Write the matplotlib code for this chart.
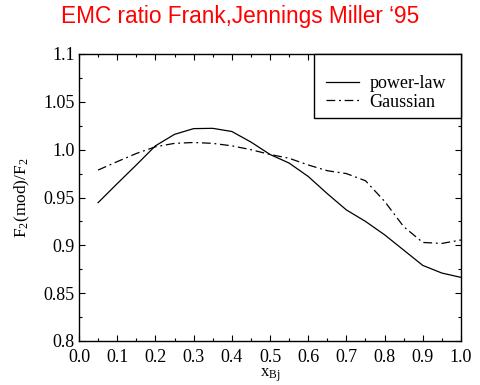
import matplotlib
matplotlib.use("Agg")
import matplotlib.pyplot as plt
from matplotlib.ticker import MultipleLocator, FormatStrFormatter
from matplotlib.patches import Rectangle

x_bj = [0.05, 0.10, 0.15, 0.20, 0.25, 0.30, 0.35, 0.40, 0.45, 0.50,
        0.55, 0.60, 0.65, 0.70, 0.75, 0.80, 0.85, 0.90, 0.95, 1.00]
power_law = [0.9446, 0.9645, 0.984, 1.004, 1.016, 1.022, 1.0223, 1.019, 1.008, 0.995,
             0.986, 0.972, 0.954, 0.937, 0.925, 0.911, 0.895, 0.879, 0.871, 0.8665]
gaussian = [0.9787, 0.9875, 0.996, 1.003, 1.0066, 1.0075, 1.0066, 1.004, 1.0, 0.995,
            0.991, 0.984, 0.978, 0.975, 0.9675, 0.946, 0.9195, 0.903, 0.902, 0.9056]

title = "EMC ratio Frank,Jennings Miller \u201895"
series_labels = ["power-law", "Gaussian"]

plt.rcParams['mathtext.fontset'] = 'custom'
plt.rcParams['mathtext.rm'] = 'Liberation Serif'
plt.rcParams['mathtext.it'] = 'Liberation Serif:italic'

fig = plt.figure(figsize=(4.81, 3.85), dpi=100)
ax = fig.add_axes([79/481, 1-341/385, 382/481, 287/385])

ax.plot(x_bj, power_law, color='black', lw=0.9, label=series_labels[0])
ax.plot(x_bj, gaussian, color='black', lw=0.9, linestyle=(0, (7, 3, 1.5, 3)),
        label=series_labels[1])

ax.set_xlim(0.0, 1.0)
ax.set_ylim(0.8, 1.1)
ax.xaxis.set_major_locator(MultipleLocator(0.1))
ax.xaxis.set_minor_locator(MultipleLocator(0.05))
ax.yaxis.set_major_locator(MultipleLocator(0.05))
ax.yaxis.set_minor_locator(MultipleLocator(0.025))
ax.xaxis.set_major_formatter(FormatStrFormatter('%.1f'))

def yfmt(v, pos):
    s = f"{v:.2f}"
    if s.endswith('0'):
        s = s[:-1]
    return s
ax.yaxis.set_major_formatter(plt.FuncFormatter(yfmt))

ax.tick_params(which='both', direction='in', top=True, right=True, width=0.8,
               labelsize=13)
ax.tick_params(axis='x', pad=6)
ax.tick_params(axis='y', pad=3)
ax.tick_params(which='major', length=4)
ax.tick_params(which='minor', length=2.5)
for lab in ax.get_xticklabels() + ax.get_yticklabels():
    lab.set_fontfamily('Liberation Serif')
for sp in ax.spines.values():
    sp.set_linewidth(1.0)

ax.set_xlabel(r'$\mathrm{x_{Bj}}$', fontsize=12, labelpad=0)
ax.set_ylabel(r'$\mathrm{F_2(mod)/F_2}$', fontsize=12.5, labelpad=8)

# legend frame box (touching top and right axes spines)
ax.add_patch(Rectangle(((314-79)/382, (341-118)/287), 1-(314-79)/382, 1-(341-118)/287,
                       transform=ax.transAxes, fill=True, facecolor='white',
                       edgecolor='black', lw=1.0, zorder=4, clip_on=False))
leg = ax.legend(loc='upper left', bbox_to_anchor=((326-79)/382, (341-75)/287),
                borderaxespad=0, borderpad=0, frameon=False,
                prop={'family': 'Liberation Serif', 'size': 13},
                handlelength=1.8, handletextpad=0.6, labelspacing=0.1)
leg.set_zorder(5)

fig.text(0.5, 1-17/385, title, color='red', ha='center', va='center',
         fontsize=16.3, family='Liberation Sans')

fig.savefig('out.png', dpi=100)
